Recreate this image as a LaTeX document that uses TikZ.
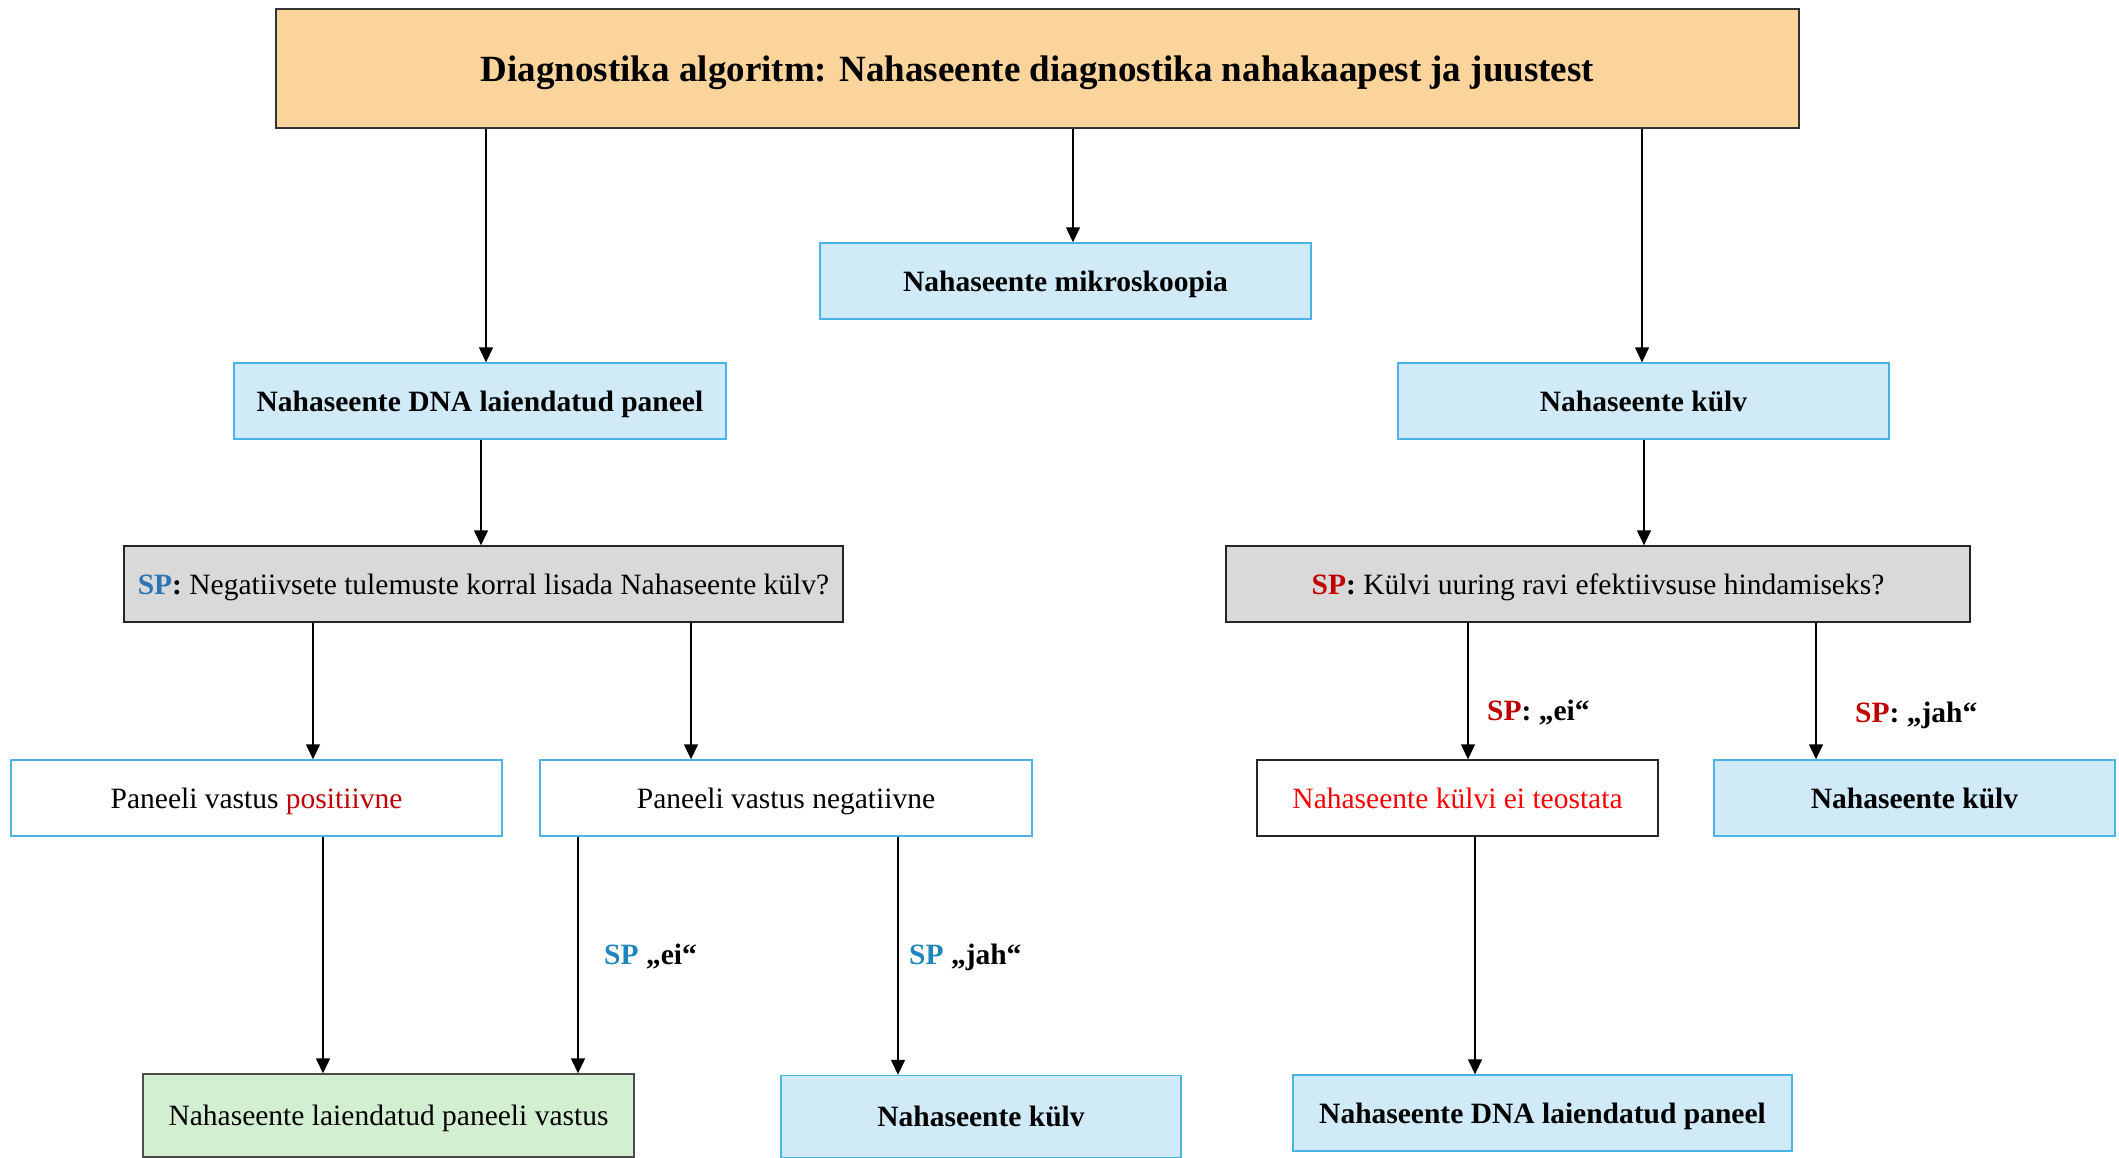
\documentclass[tikz,border=0pt]{standalone}
\usepackage{fontspec}
\setmainfont{Liberation Serif}
\usetikzlibrary{arrows.meta}
\definecolor{topfill}{HTML}{FAD49B}
\definecolor{bluefill}{HTML}{D0EAF7}
\definecolor{blueline}{HTML}{4BB3E6}
\definecolor{grayfill}{HTML}{D9D9D9}
\definecolor{greenfill}{HTML}{D3EFD2}
\definecolor{spblue}{HTML}{2E75B6}
\definecolor{lblblue}{HTML}{1E86BC}
\definecolor{spred}{HTML}{C00000}
\definecolor{brightred}{HTML}{FF0000}
\tikzset{
  box/.style={rectangle, inner sep=0pt, line width=1.4pt, align=center,
    text height=25pt, text depth=5pt,
    font=\fontsize{29.5}{34}\selectfont},
  bluebox/.style={box, draw=blueline, fill=bluefill, font=\fontsize{29.5}{34}\selectfont\bfseries},
  graybox/.style={box, draw=black!85, fill=grayfill},
  whitebox/.style={box, draw=blueline, fill=white},
  blackbox/.style={box, draw=black!85, fill=white},
  greenbox/.style={box, draw=black!70, fill=greenfill},
  lbl/.style={anchor=west, inner sep=0pt, font=\fontsize{29.5}{34}\selectfont\bfseries},
  arr/.style={line width=1.4pt, -{Triangle[length=15pt,width=14pt]}},
}
\begin{document}
\begin{tikzpicture}[x=1pt,y=-1pt]
\useasboundingbox (0,0) rectangle (2119,1158);
\node[box, draw=black!80, fill=topfill, line width=1.8pt, minimum width=1523pt, minimum height=119pt,
  text height=33pt, text depth=6pt,
  font=\fontsize{37}{42}\selectfont\bfseries] (top) at (1037.5,68.5)
  {Diagnostika algoritm: Nahaseente diagnostika nahakaapest ja juustest};
\node[bluebox, minimum width=491pt, minimum height=76pt] (mik) at (1065.5,281) {Nahaseente mikroskoopia};
\node[bluebox, minimum width=492pt, minimum height=76pt] (dnaL) at (480,401) {Nahaseente DNA laiendatud paneel};
\node[bluebox, minimum width=491pt, minimum height=76pt] (kulvR) at (1643.5,401) {Nahaseente külv};
\node[graybox, minimum width=719pt, minimum height=76pt] (spL) at (483.5,584)
  {\textcolor{spblue}{\bfseries SP}\textbf{:} Negatiivsete tulemuste korral lisada Nahaseente külv?};
\node[graybox, minimum width=744pt, minimum height=76pt] (spR) at (1598,584)
  {\textcolor{spred}{\bfseries SP}\textbf{:} Külvi uuring ravi efektiivsuse hindamiseks?};
\node[whitebox, minimum width=491pt, minimum height=76pt] (pos) at (256.5,798)
  {Paneeli vastus \textcolor{spred}{positiivne}};
\node[whitebox, minimum width=492pt, minimum height=76pt] (neg) at (786,798)
  {Paneeli vastus negatiivne};
\node[blackbox, minimum width=401pt, minimum height=76pt, text=brightred] (ei) at (1457.5,798)
  {Nahaseente külvi ei teostata};
\node[bluebox, minimum width=401pt, minimum height=76pt] (kulvS) at (1914.5,798) {Nahaseente külv};
\node[greenbox, minimum width=491pt, minimum height=83pt] (green) at (388.5,1115.5)
  {Nahaseente laiendatud paneeli vastus};
\node[bluebox, minimum width=400pt, minimum height=82pt] (kulvB) at (981,1116.5) {Nahaseente külv};
\node[bluebox, minimum width=499pt, minimum height=76pt] (dnaR) at (1542.5,1113) {Nahaseente DNA laiendatud paneel};
% arrows
\draw[arr] (top.south -| 486,0) -- (dnaL.north -| 486,0);
\draw[arr] (top.south -| 1073,0) -- (mik.north -| 1073,0);
\draw[arr] (top.south -| 1642,0) -- (kulvR.north -| 1642,0);
\draw[arr] (dnaL.south -| 481,0) -- (spL.north -| 481,0);
\draw[arr] (kulvR.south -| 1644,0) -- (spR.north -| 1644,0);
\draw[arr] (spL.south -| 313,0) -- (pos.north -| 313,0);
\draw[arr] (spL.south -| 691,0) -- (neg.north -| 691,0);
\draw[arr] (spR.south -| 1468,0) -- (ei.north -| 1468,0);
\draw[arr] (spR.south -| 1816,0) -- (kulvS.north -| 1816,0);
\draw[arr] (pos.south -| 323,0) -- (green.north -| 323,0);
\draw[arr] (neg.south -| 578,0) -- (green.north -| 578,0);
\draw[arr] (neg.south -| 898,0) -- (kulvB.north -| 898,0);
\draw[arr] (ei.south -| 1475,0) -- (dnaR.north -| 1475,0);
% labels
\node[lbl] (l1) at (604,957) {\textcolor{lblblue}{SP} „ei“};
\node[lbl] (l2) at (909,957) {\textcolor{lblblue}{SP} „jah“};
\node[lbl] (l3) at (1487,713) {\textcolor{spred}{SP}: „ei“};
\node[lbl] (l4) at (1855,715) {\textcolor{spred}{SP}: „jah“};
\end{tikzpicture}
\end{document}
